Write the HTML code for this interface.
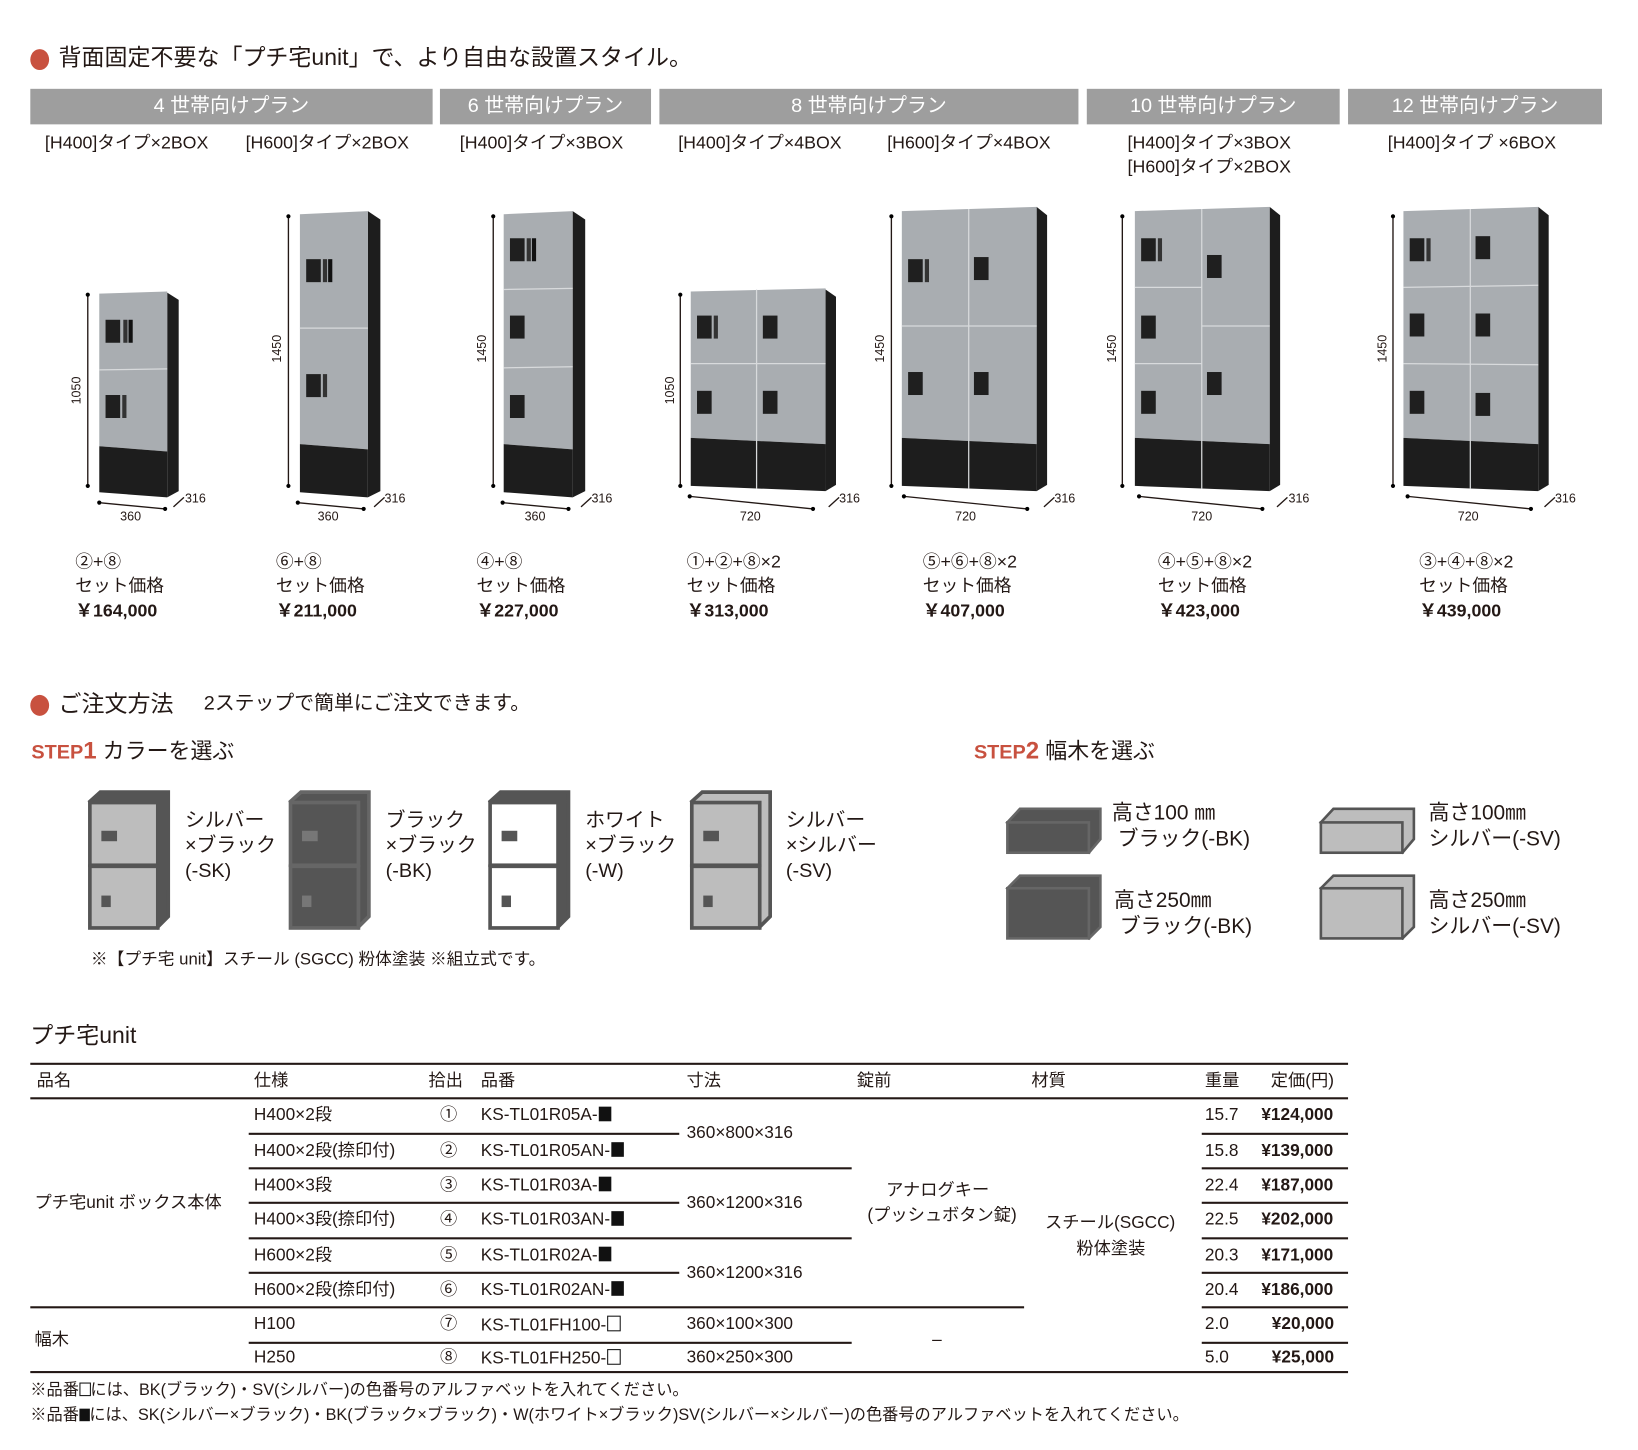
<!DOCTYPE html>
<html><head><meta charset="utf-8">
<style>
html,body{margin:0;padding:0;background:#fff;}
body{width:1638px;height:1450px;overflow:hidden;position:relative;}
#w{position:absolute;left:0;top:0;width:1568px;height:1388px;transform:scale(1.045);transform-origin:0 0;font-family:"Liberation Sans","Noto Sans CJK JP",sans-serif;color:#231815;}
.t{position:absolute;white-space:nowrap;line-height:1;}
.dot{position:absolute;width:18px;height:20px;border-radius:50%;background:#c8513f;}
.bar{position:absolute;top:85px;height:34px;background:#9e9e9e;color:#fff;font-size:19px;line-height:34px;text-align:center;}
.sub{font-size:17px;}
.p{font-size:17px;}
.b{font-weight:bold;}
.hl{position:absolute;height:1.5px;background:#231815;}
.td{font-size:16.5px;}
.sq{display:inline-block;width:12px;height:14px;background:#111;vertical-align:-1px;margin-left:1px;}
.sqo{display:inline-block;width:11px;height:13px;border:1.3px solid #111;vertical-align:-1px;margin-left:1px;}
.sqs{display:inline-block;width:10px;height:12px;background:#111;vertical-align:-1px;}
.sqso{display:inline-block;width:9px;height:11px;border:1.2px solid #111;vertical-align:-1px;}
</style></head><body><div id="w">

<div class="dot" style="left:29px;top:47px"></div>
<div class="t" style="left:56px;top:44px;font-size:22px">背面固定不要な「プチ宅unit」で、より自由な設置スタイル。</div>

<div class="bar" style="left:29px;width:385px">4 世帯向けプラン</div>
<div class="bar" style="left:421px;width:202px">6 世帯向けプラン</div>
<div class="bar" style="left:631px;width:401px">8 世帯向けプラン</div>
<div class="bar" style="left:1040px;width:242px">10 世帯向けプラン</div>
<div class="bar" style="left:1290px;width:243px">12 世帯向けプラン</div>

<div class="t sub" style="left:43px;top:128px">[H400]タイプ×2BOX</div>
<div class="t sub" style="left:235px;top:128px">[H600]タイプ×2BOX</div>
<div class="t sub" style="left:440px;top:128px">[H400]タイプ×3BOX</div>
<div class="t sub" style="left:649px;top:128px">[H400]タイプ×4BOX</div>
<div class="t sub" style="left:849px;top:128px">[H600]タイプ×4BOX</div>
<div class="t sub" style="left:1079px;top:128px">[H400]タイプ×3BOX</div>
<div class="t sub" style="left:1079px;top:151px">[H600]タイプ×2BOX</div>
<div class="t sub" style="left:1328px;top:128px">[H400]タイプ ×6BOX</div>

<svg style="position:absolute;left:0;top:0" width="1560" height="520">
<defs><style>.f{fill:#a9adb1}.k{fill:#1d1d1d}.dv{stroke:#d8dadc;stroke-width:1.2}.dl{stroke:#231815;stroke-width:1.3}.lb{font-family:"Liberation Sans",sans-serif;font-size:12px;fill:#231815}</style></defs>
<g>
<polygon class="k" points="160,280 171,287 171,470 160,476"/>
<polygon class="f" points="95,281 160,279 160,432 95,427"/>
<polygon class="k" points="95,427 160,432 160,476 95,471"/>
<line class="dv" x1="95" y1="354" x2="160" y2="353"/>
<rect x="101" y="306" width="14" height="22" fill="#1f1f1f"/><rect x="118" y="306" width="4" height="22" fill="#333"/><rect x="123" y="306" width="4" height="22" fill="#111"/>
<rect x="101" y="378" width="14" height="22" fill="#1f1f1f"/><rect x="117" y="378" width="4" height="22" fill="#333"/>
<line class="dl" x1="84" y1="282" x2="84" y2="465"/><circle cx="84" cy="282" r="2"/><circle cx="84" cy="465" r="2"/>
<line class="dl" x1="95" y1="481" x2="158" y2="487"/><circle cx="95" cy="481" r="2"/><circle cx="158" cy="487" r="2"/>
<line class="dl" x1="166" y1="485" x2="176" y2="476"/>
<text class="lb" transform="translate(77,387) rotate(-90)">1050</text>
<text class="lb" x="115" y="498">360</text><text class="lb" x="177" y="481">316</text>
</g>
<g>
<polygon class="k" points="352,202 364,210 364,470 352,476"/>
<polygon class="f" points="287,205 352,202 352,430 287,425"/>
<polygon class="k" points="287,425 352,430 352,476 287,471"/>
<line class="dv" x1="287" y1="314" x2="352" y2="314"/>
<rect x="293" y="248" width="14" height="22" fill="#1f1f1f"/><rect x="309" y="248" width="4" height="22" fill="#333"/><rect x="314" y="248" width="4" height="22" fill="#111"/>
<rect x="293" y="358" width="14" height="22" fill="#1f1f1f"/><rect x="309" y="358" width="4" height="22" fill="#333"/>
<line class="dl" x1="276" y1="207" x2="276" y2="465"/><circle cx="276" cy="207" r="2"/><circle cx="276" cy="465" r="2"/>
<line class="dl" x1="285" y1="481" x2="348" y2="487"/><circle cx="285" cy="481" r="2"/><circle cx="348" cy="487" r="2"/>
<line class="dl" x1="358" y1="485" x2="368" y2="476"/>
<text class="lb" transform="translate(269,347) rotate(-90)">1450</text>
<text class="lb" x="304" y="498">360</text><text class="lb" x="368" y="481">316</text>
</g>
<g>
<polygon class="k" points="548,202 560,210 560,470 548,476"/>
<polygon class="f" points="482,205 548,202 548,430 482,425"/>
<polygon class="k" points="482,425 548,430 548,476 482,471"/>
<line class="dv" x1="482" y1="277" x2="548" y2="276"/><line class="dv" x1="482" y1="352" x2="548" y2="351"/>
<rect x="488" y="228" width="14" height="22" fill="#1f1f1f"/><rect x="504" y="228" width="4" height="22" fill="#333"/><rect x="509" y="228" width="4" height="22" fill="#111"/>
<rect x="488" y="302" width="14" height="22" fill="#1f1f1f"/>
<rect x="488" y="378" width="14" height="22" fill="#1f1f1f"/>
<line class="dl" x1="472" y1="207" x2="472" y2="465"/><circle cx="472" cy="207" r="2"/><circle cx="472" cy="465" r="2"/>
<line class="dl" x1="481" y1="481" x2="544" y2="487"/><circle cx="481" cy="481" r="2"/><circle cx="544" cy="487" r="2"/>
<line class="dl" x1="556" y1="485" x2="566" y2="476"/>
<text class="lb" transform="translate(465,347) rotate(-90)">1450</text>
<text class="lb" x="502" y="498">360</text><text class="lb" x="566" y="481">316</text>
</g>
<g>
<polygon class="k" points="790,277 800,284 800,464 790,470"/>
<polygon class="f" points="661,279 790,276 790,425 661,419"/>
<polygon class="k" points="661,419 790,425 790,470 661,465"/>
<line class="dv" x1="724" y1="277" x2="724" y2="468"/>
<line class="dv" x1="661" y1="348" x2="790" y2="348"/>
<rect x="667" y="302" width="14" height="22" fill="#1f1f1f"/><rect x="683" y="302" width="4" height="22" fill="#333"/>
<rect x="730" y="302" width="14" height="22" fill="#1f1f1f"/>
<rect x="667" y="374" width="14" height="22" fill="#1f1f1f"/>
<rect x="730" y="374" width="14" height="22" fill="#1f1f1f"/>
<line class="dl" x1="651" y1="282" x2="651" y2="465"/><circle cx="651" cy="282" r="2"/><circle cx="651" cy="465" r="2"/>
<line class="dl" x1="660" y1="475" x2="778" y2="487"/><circle cx="660" cy="475" r="2"/><circle cx="778" cy="487" r="2"/>
<line class="dl" x1="793" y1="485" x2="803" y2="476"/>
<text class="lb" transform="translate(645,387) rotate(-90)">1050</text>
<text class="lb" x="708" y="498">720</text><text class="lb" x="803" y="481">316</text>
</g>
<g>
<polygon class="k" points="992,198 1002,206 1002,464 992,470"/>
<polygon class="f" points="863,202 992,198 992,425 863,419"/>
<polygon class="k" points="863,419 992,425 992,470 863,465"/>
<line class="dv" x1="927" y1="200" x2="927" y2="468"/>
<line class="dv" x1="863" y1="312" x2="992" y2="312"/>
<rect x="869" y="248" width="14" height="22" fill="#1f1f1f"/><rect x="885" y="248" width="4" height="22" fill="#333"/>
<rect x="932" y="246" width="14" height="22" fill="#1f1f1f"/>
<rect x="869" y="356" width="14" height="22" fill="#1f1f1f"/>
<rect x="932" y="356" width="14" height="22" fill="#1f1f1f"/>
<line class="dl" x1="853" y1="207" x2="853" y2="465"/><circle cx="853" cy="207" r="2"/><circle cx="853" cy="465" r="2"/>
<line class="dl" x1="865" y1="475" x2="983" y2="487"/><circle cx="865" cy="475" r="2"/><circle cx="983" cy="487" r="2"/>
<line class="dl" x1="999" y1="485" x2="1009" y2="476"/>
<text class="lb" transform="translate(846,347) rotate(-90)">1450</text>
<text class="lb" x="914" y="498">720</text><text class="lb" x="1009" y="481">316</text>
</g>
<g>
<polygon class="k" points="1215,198 1225,206 1225,464 1215,470"/>
<polygon class="f" points="1086,202 1215,198 1215,425 1086,419"/>
<polygon class="k" points="1086,419 1215,425 1215,470 1086,465"/>
<line class="dv" x1="1150" y1="200" x2="1150" y2="468"/>
<line class="dv" x1="1086" y1="275" x2="1150" y2="275"/><line class="dv" x1="1086" y1="348" x2="1150" y2="348"/>
<line class="dv" x1="1150" y1="312" x2="1215" y2="312"/>
<rect x="1092" y="228" width="14" height="22" fill="#1f1f1f"/><rect x="1108" y="228" width="4" height="22" fill="#333"/>
<rect x="1155" y="244" width="14" height="22" fill="#1f1f1f"/>
<rect x="1092" y="302" width="14" height="22" fill="#1f1f1f"/>
<rect x="1092" y="374" width="14" height="22" fill="#1f1f1f"/>
<rect x="1155" y="356" width="14" height="22" fill="#1f1f1f"/>
<line class="dl" x1="1074" y1="207" x2="1074" y2="465"/><circle cx="1074" cy="207" r="2"/><circle cx="1074" cy="465" r="2"/>
<line class="dl" x1="1090" y1="475" x2="1208" y2="487"/><circle cx="1090" cy="475" r="2"/><circle cx="1208" cy="487" r="2"/>
<line class="dl" x1="1222" y1="485" x2="1232" y2="476"/>
<text class="lb" transform="translate(1068,347) rotate(-90)">1450</text>
<text class="lb" x="1140" y="498">720</text><text class="lb" x="1233" y="481">316</text>
</g>
<g>
<polygon class="k" points="1472,198 1482,206 1482,464 1472,470"/>
<polygon class="f" points="1343,202 1472,198 1472,425 1343,419"/>
<polygon class="k" points="1343,419 1472,425 1472,470 1343,465"/>
<line class="dv" x1="1407" y1="200" x2="1407" y2="468"/>
<line class="dv" x1="1343" y1="275" x2="1472" y2="273"/><line class="dv" x1="1343" y1="348" x2="1472" y2="349"/>
<rect x="1349" y="228" width="14" height="22" fill="#1f1f1f"/><rect x="1365" y="228" width="4" height="22" fill="#333"/>
<rect x="1412" y="226" width="14" height="22" fill="#1f1f1f"/>
<rect x="1349" y="300" width="14" height="22" fill="#1f1f1f"/>
<rect x="1412" y="300" width="14" height="22" fill="#1f1f1f"/>
<rect x="1349" y="374" width="14" height="22" fill="#1f1f1f"/>
<rect x="1412" y="376" width="14" height="22" fill="#1f1f1f"/>
<line class="dl" x1="1333" y1="207" x2="1333" y2="465"/><circle cx="1333" cy="207" r="2"/><circle cx="1333" cy="465" r="2"/>
<line class="dl" x1="1347" y1="475" x2="1465" y2="487"/><circle cx="1347" cy="475" r="2"/><circle cx="1465" cy="487" r="2"/>
<line class="dl" x1="1478" y1="485" x2="1488" y2="476"/>
<text class="lb" transform="translate(1327,347) rotate(-90)">1450</text>
<text class="lb" x="1395" y="498">720</text><text class="lb" x="1488" y="481">316</text>
</g>
</svg>

<div class="t p" style="left:72px;top:529px">②+⑧</div><div class="t p" style="left:72px;top:552px">セット価格</div><div class="t p b" style="left:72px;top:576px">￥164,000</div>
<div class="t p" style="left:264px;top:529px">⑥+⑧</div><div class="t p" style="left:264px;top:552px">セット価格</div><div class="t p b" style="left:264px;top:576px">￥211,000</div>
<div class="t p" style="left:456px;top:529px">④+⑧</div><div class="t p" style="left:456px;top:552px">セット価格</div><div class="t p b" style="left:456px;top:576px">￥227,000</div>
<div class="t p" style="left:657px;top:529px">①+②+⑧×2</div><div class="t p" style="left:657px;top:552px">セット価格</div><div class="t p b" style="left:657px;top:576px">￥313,000</div>
<div class="t p" style="left:883px;top:529px">⑤+⑥+⑧×2</div><div class="t p" style="left:883px;top:552px">セット価格</div><div class="t p b" style="left:883px;top:576px">￥407,000</div>
<div class="t p" style="left:1108px;top:529px">④+⑤+⑧×2</div><div class="t p" style="left:1108px;top:552px">セット価格</div><div class="t p b" style="left:1108px;top:576px">￥423,000</div>
<div class="t p" style="left:1358px;top:529px">③+④+⑧×2</div><div class="t p" style="left:1358px;top:552px">セット価格</div><div class="t p b" style="left:1358px;top:576px">￥439,000</div>

<div class="dot" style="left:29px;top:665px"></div>
<div class="t" style="left:56px;top:663px;font-size:22px">ご注文方法</div>
<div class="t" style="left:195px;top:664px;font-size:19px">2ステップで簡単にご注文できます。</div>
<div class="t" style="left:30px;top:707px;font-size:21px"><span style="color:#c8513f;font-weight:bold;font-size:19px">STEP<span style="font-size:23px">1</span></span> カラーを選ぶ</div>
<div class="t" style="left:932px;top:707px;font-size:21px"><span style="color:#c8513f;font-weight:bold;font-size:19px">STEP<span style="font-size:23px">2</span></span> 幅木を選ぶ</div>

<svg style="position:absolute;left:0;top:740px" width="900" height="170">
<g stroke="#555" stroke-width="3.5">
<polygon points="86,27 96,18 161,18 161,137 151,147" fill="#555"/>
<rect x="86" y="28" width="65" height="60" fill="#bdbdbd"/><rect x="86" y="89" width="65" height="59" fill="#bdbdbd"/>
<polygon points="278,27 288,18 353,18 353,137 343,147" fill="#555" stroke="#666"/>
<rect x="278" y="28" width="65" height="60" fill="#555" stroke="#666"/><rect x="278" y="89" width="65" height="59" fill="#555" stroke="#666"/>
<polygon points="469,27 479,18 544,18 544,137 534,147" fill="#555"/>
<rect x="469" y="28" width="65" height="60" fill="#fff"/><rect x="469" y="89" width="65" height="59" fill="#fff"/>
<polygon points="662,27 672,18 737,18 737,137 727,147" fill="#bdbdbd"/>
<rect x="662" y="28" width="65" height="60" fill="#bdbdbd"/><rect x="662" y="89" width="65" height="59" fill="#bdbdbd"/>
</g>
<g>
<rect x="97" y="55" width="15" height="10" fill="#555"/><rect x="97" y="117" width="9" height="11" fill="#555"/>
<rect x="289" y="55" width="15" height="10" fill="#777"/><rect x="289" y="117" width="9" height="11" fill="#777"/>
<rect x="480" y="55" width="15" height="10" fill="#555"/><rect x="480" y="117" width="9" height="11" fill="#555"/>
<rect x="673" y="55" width="15" height="10" fill="#555"/><rect x="673" y="117" width="9" height="11" fill="#555"/>
</g>
</svg>
<div class="t" style="left:177px;top:774px;font-size:19px;line-height:24px">シルバー<br>×ブラック<br>(-SK)</div>
<div class="t" style="left:369px;top:774px;font-size:19px;line-height:24px">ブラック<br>×ブラック<br>(-BK)</div>
<div class="t" style="left:560px;top:774px;font-size:19px;line-height:24px">ホワイト<br>×ブラック<br>(-W)</div>
<div class="t" style="left:752px;top:774px;font-size:19px;line-height:24px">シルバー<br>×シルバー<br>(-SV)</div>
<div class="t" style="left:87px;top:911px;font-size:16px">※【プチ宅 unit】スチール (SGCC) 粉体塗装 ※組立式です。</div>

<svg style="position:absolute;left:950px;top:760px" width="420" height="150">
<g stroke="#666" stroke-width="2.5">
<polygon points="14,27 26,14 103,14 103,43 92,56" fill="#555"/>
<rect x="14" y="27" width="78" height="29" fill="#555"/>
<polygon points="14,90 26,78 103,78 103,127 92,138" fill="#555"/>
<rect x="14" y="90" width="78" height="48" fill="#555"/>
</g>
<g stroke="#555" stroke-width="2.5">
<polygon points="314,27 326,14 403,14 403,43 392,56" fill="#bdbdbd"/>
<rect x="314" y="27" width="78" height="29" fill="#bdbdbd"/>
<polygon points="314,90 326,78 403,78 403,127 392,138" fill="#bdbdbd"/>
<rect x="314" y="90" width="78" height="48" fill="#bdbdbd"/>
</g>
</svg>
<div class="t" style="left:1064px;top:766px;font-size:20px;line-height:25px">高さ100 ㎜<br>&nbsp;ブラック(-BK)</div>
<div class="t" style="left:1066px;top:850px;font-size:20px;line-height:25px">高さ250㎜<br>&nbsp;ブラック(-BK)</div>
<div class="t" style="left:1367px;top:766px;font-size:20px;line-height:25px">高さ100㎜<br>シルバー(-SV)</div>
<div class="t" style="left:1367px;top:850px;font-size:20px;line-height:25px">高さ250㎜<br>シルバー(-SV)</div>

<div class="t" style="left:29px;top:980px;font-size:22px">プチ宅unit</div>
<div class="hl" style="left:29px;width:1261px;top:1017px;height:2px"></div>
<div class="t td" style="left:35px;top:1026px">品名</div>
<div class="t td" style="left:243px;top:1026px">仕様</div>
<div class="t td" style="left:410px;top:1026px">拾出</div>
<div class="t td" style="left:460px;top:1026px">品番</div>
<div class="t td" style="left:657px;top:1026px">寸法</div>
<div class="t td" style="left:820px;top:1026px">錠前</div>
<div class="t td" style="left:987px;top:1026px">材質</div>
<div class="t td" style="left:1153px;top:1026px">重量</div>
<div class="t td" style="left:1216px;top:1026px">定価(円)</div>
<div class="hl" style="left:29px;width:1261px;top:1050px"></div>

<div class="hl" style="left:238px;width:412px;top:1084px"></div><div class="hl" style="left:1150px;width:140px;top:1084px"></div>
<div class="hl" style="left:238px;width:577px;top:1117px"></div><div class="hl" style="left:1150px;width:140px;top:1117px"></div>
<div class="hl" style="left:238px;width:412px;top:1150px"></div><div class="hl" style="left:1150px;width:140px;top:1150px"></div>
<div class="hl" style="left:238px;width:577px;top:1184px"></div><div class="hl" style="left:1150px;width:140px;top:1184px"></div>
<div class="hl" style="left:238px;width:412px;top:1217px"></div><div class="hl" style="left:1150px;width:140px;top:1217px"></div>
<div class="hl" style="left:29px;width:951px;top:1250px"></div><div class="hl" style="left:1150px;width:140px;top:1250px"></div>
<div class="hl" style="left:238px;width:577px;top:1284px"></div><div class="hl" style="left:1150px;width:140px;top:1284px"></div>
<div class="hl" style="left:29px;width:1261px;top:1312px"></div>

<div class="t td" style="left:243px;top:1059px">H400×2段</div><div class="t td" style="left:421px;top:1059px">①</div><div class="t td" style="left:460px;top:1059px">KS-TL01R05A-<span class="sq"></span></div><div class="t td" style="left:1153px;top:1059px">15.7</div><div class="t td b" style="left:1207px;top:1059px">¥124,000</div>
<div class="t td" style="left:243px;top:1093px">H400×2段(捺印付)</div><div class="t td" style="left:421px;top:1093px">②</div><div class="t td" style="left:460px;top:1093px">KS-TL01R05AN-<span class="sq"></span></div><div class="t td" style="left:1153px;top:1093px">15.8</div><div class="t td b" style="left:1207px;top:1093px">¥139,000</div>
<div class="t td" style="left:243px;top:1126px">H400×3段</div><div class="t td" style="left:421px;top:1126px">③</div><div class="t td" style="left:460px;top:1126px">KS-TL01R03A-<span class="sq"></span></div><div class="t td" style="left:1153px;top:1126px">22.4</div><div class="t td b" style="left:1207px;top:1126px">¥187,000</div>
<div class="t td" style="left:243px;top:1159px">H400×3段(捺印付)</div><div class="t td" style="left:421px;top:1159px">④</div><div class="t td" style="left:460px;top:1159px">KS-TL01R03AN-<span class="sq"></span></div><div class="t td" style="left:1153px;top:1159px">22.5</div><div class="t td b" style="left:1207px;top:1159px">¥202,000</div>
<div class="t td" style="left:243px;top:1193px">H600×2段</div><div class="t td" style="left:421px;top:1193px">⑤</div><div class="t td" style="left:460px;top:1193px">KS-TL01R02A-<span class="sq"></span></div><div class="t td" style="left:1153px;top:1193px">20.3</div><div class="t td b" style="left:1207px;top:1193px">¥171,000</div>
<div class="t td" style="left:243px;top:1226px">H600×2段(捺印付)</div><div class="t td" style="left:421px;top:1226px">⑥</div><div class="t td" style="left:460px;top:1226px">KS-TL01R02AN-<span class="sq"></span></div><div class="t td" style="left:1153px;top:1226px">20.4</div><div class="t td b" style="left:1207px;top:1226px">¥186,000</div>
<div class="t td" style="left:243px;top:1259px">H100</div><div class="t td" style="left:421px;top:1259px">⑦</div><div class="t td" style="left:460px;top:1259px">KS-TL01FH100-<span class="sqo"></span></div><div class="t td" style="left:657px;top:1259px">360×100×300</div><div class="t td" style="left:1153px;top:1259px">2.0</div><div class="t td b" style="left:1217px;top:1259px">¥20,000</div>
<div class="t td" style="left:243px;top:1291px">H250</div><div class="t td" style="left:421px;top:1291px">⑧</div><div class="t td" style="left:460px;top:1291px">KS-TL01FH250-<span class="sqo"></span></div><div class="t td" style="left:657px;top:1291px">360×250×300</div><div class="t td" style="left:1153px;top:1291px">5.0</div><div class="t td b" style="left:1217px;top:1291px">¥25,000</div>

<div class="t td" style="left:657px;top:1076px">360×800×316</div>
<div class="t td" style="left:657px;top:1143px">360×1200×316</div>
<div class="t td" style="left:657px;top:1210px">360×1200×316</div>
<div class="t td" style="left:33px;top:1143px">プチ宅unit ボックス本体</div>
<div class="t td" style="left:33px;top:1274px">幅木</div>
<div class="t td" style="left:848px;top:1131px">アナログキー</div>
<div class="t td" style="left:830px;top:1155px">(プッシュボタン錠)</div>
<div class="t td" style="left:1000px;top:1162px">スチール(SGCC)</div>
<div class="t td" style="left:1030px;top:1187px">粉体塗装</div>
<div class="t td" style="left:892px;top:1274px">–</div>

<div class="t" style="left:29px;top:1323px;font-size:15.5px">※品番<span class="sqso"></span>には、BK(ブラック)・SV(シルバー)の色番号のアルファベットを入れてください。</div>
<div class="t" style="left:29px;top:1347px;font-size:15.5px">※品番<span class="sqs"></span>には、SK(シルバー×ブラック)・BK(ブラック×ブラック)・W(ホワイト×ブラック)SV(シルバー×シルバー)の色番号のアルファベットを入れてください。</div>

</div></body></html>
